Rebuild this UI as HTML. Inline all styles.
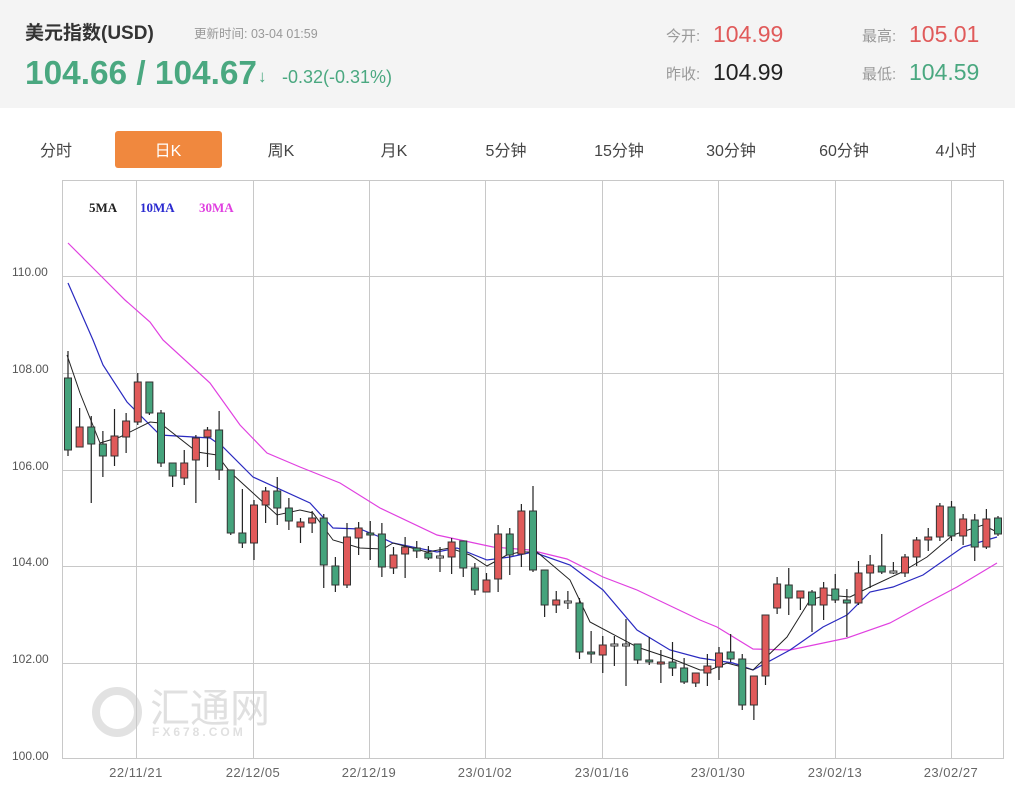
<!DOCTYPE html>
<html><head><meta charset="utf-8"><style>
html,body{margin:0;padding:0;background:#fff;width:1021px;height:794px;overflow:hidden;font-family:"Liberation Sans","Noto Sans CJK SC",sans-serif}
svg{position:absolute;left:0;top:0}
</style></head><body>
<svg width="1021" height="794" viewBox="0 0 1021 794" xmlns="http://www.w3.org/2000/svg" font-family="Liberation Sans, Noto Sans CJK SC, sans-serif">
<rect x="0" y="0" width="1015" height="108" fill="#f4f4f4"/>
<text x="25" y="39" font-size="19" font-weight="bold" fill="#333">美元指数(USD)</text>
<text x="194" y="38" font-size="12.5" fill="#999">更新时间: 03-04 01:59</text>
<text x="25" y="84" font-size="33" font-weight="bold" fill="#4aa880" textLength="232" lengthAdjust="spacingAndGlyphs">104.66 / 104.67</text>
<text x="258" y="82" font-size="17" font-weight="bold" fill="#4aa880">↓</text>
<text x="282" y="83" font-size="18" fill="#4aa880">-0.32(-0.31%)</text>
<text x="666" y="41" font-size="15" fill="#999">今开:</text>
<text x="713" y="42" font-size="23" fill="#e05a5a">104.99</text>
<text x="666" y="79" font-size="15" fill="#999">昨收:</text>
<text x="713" y="80" font-size="23" fill="#222">104.99</text>
<text x="862" y="41" font-size="15" fill="#999">最高:</text>
<text x="909" y="42" font-size="23" fill="#e05a5a">105.01</text>
<text x="862" y="79" font-size="15" fill="#999">最低:</text>
<text x="909" y="80" font-size="23" fill="#4aa880">104.59</text>
<rect x="115" y="131" width="107" height="37" rx="3" fill="#f0883e"/>
<g font-size="16" fill="#444" text-anchor="middle">
<text x="56" y="156">分时</text><text x="168" y="156" fill="#fff">日K</text><text x="281" y="156">周K</text><text x="394" y="156">月K</text><text x="506" y="156">5分钟</text><text x="619" y="156">15分钟</text><text x="731" y="156">30分钟</text><text x="844" y="156">60分钟</text><text x="956" y="156">4小时</text>
</g>
<g fill="none" stroke="#e2e2e2" stroke-width="8"><circle cx="117" cy="712" r="21"/></g>
<text x="150" y="722" font-size="40" fill="#e0e0e0">汇通网</text>
<text x="152" y="736" font-size="12" font-weight="bold" fill="#e0e0e0" letter-spacing="3">FX678.COM</text>
<g id="grid" stroke="#c8c8c8" stroke-width="1" fill="none"></g>
<rect x="62.5" y="180.5" width="941" height="578" fill="none" stroke="#c8c8c8"/>
<g font-size="12" fill="#555">
<text x="12" y="276">110.00</text><text x="12" y="373">108.00</text><text x="12" y="470">106.00</text><text x="12" y="566">104.00</text><text x="12" y="663">102.00</text><text x="12" y="760">100.00</text>
</g>
<g font-size="13" fill="#666" text-anchor="middle" letter-spacing="0.5">
<text x="136" y="777">22/11/21</text><text x="253" y="777">22/12/05</text><text x="369" y="777">22/12/19</text><text x="485" y="777">23/01/02</text><text x="602" y="777">23/01/16</text><text x="718" y="777">23/01/30</text><text x="835" y="777">23/02/13</text><text x="951" y="777">23/02/27</text>
</g>
<g font-size="13" font-family="Liberation Serif, serif" font-weight="bold">
<text x="89" y="212" fill="#222">5MA</text><text x="140" y="212" fill="#2a2ad0">10MA</text><text x="199" y="212" fill="#e040e0">30MA</text>
</g>
<polyline fill="none" stroke="#e040e0" stroke-width="1.2" points="68,243 100,275 125,300 150,322 163,340 210,383 240,425 267,453 300,467 340,483 380,508 437,535 493,547 530,550 567,559 603,577 637,590 700,620 717,627 753,649 790,650 847,638 890,623 923,605 957,587 997,563"/>
<polyline fill="none" stroke="#2a2ac0" stroke-width="1.2" points="68,283 93,340 103,365 127,402 160,435 210,438 223,447 253,477 310,503 333,528 360,529 380,537 393,543 437,552 457,548 487,560 510,557 533,552 570,565 603,590 637,630 670,650 700,658 733,663 753,670 790,650 823,627 847,615 870,592 893,587 923,575 963,547 997,537"/>
<polyline fill="none" stroke="#222" stroke-width="1" points="67,355 80,393 100,443 120,437 150,422 160,423 197,452 217,455 230,472 253,493 277,515 300,510 313,513 333,540 360,548 383,549 393,543 427,552 450,548 470,555 487,566 507,555 520,552 537,552 570,580 590,622 637,647 670,658 700,670 710,670 727,663 753,670 787,637 810,600 827,595 850,597 870,587 900,573 927,557 953,535 983,525 997,532"/>
<g id="candles"></g>
</svg>
<script>
var g=document.getElementById('grid'),s='';
[276,373,470,566,663].forEach(function(y){s+='<line x1="62" x2="1003" y1="'+(y+.5)+'" y2="'+(y+.5)+'"/>'});
[136,253,369,485,602,718,835,951].forEach(function(x){s+='<line y1="180" y2="758" x1="'+(x+.5)+'" x2="'+(x+.5)+'"/>'});
g.innerHTML=s;
var C=[[378,450,351,456,'g'],[427,447,408,447,'r'],[427,444,416,503,'g'],[444,456,431,477,'g'],[436,456,409,466,'r'],[421,437,413,453,'r'],[382,422,373,425,'r'],[382,413,382,415,'g'],[413,463,410,467,'g'],[463,476,463,487,'g'],[463,478,450,485,'r'],[438,460,435,503,'r'],[430,437,427,467,'r'],[430,470,411,480,'g'],[470,533,470,535,'g'],[533,543,489,548,'g'],[505,543,500,560,'r'],[491,505,487,523,'r'],[491,508,477,525,'g'],[508,521,498,530,'g'],[522,527,518,543,'r'],[518,523,511,533,'r'],[518,565,514,588,'g'],[566,585,557,592,'g'],[537,585,523,588,'r'],[528,538,522,555,'r'],[533,535,521,560,'g'],[534,567,523,577,'g'],[555,568,547,574,'r'],[547,554,537,578,'r'],[548,551,541,558,'g'],[553,558,546,560,'g'],[556,558,547,572,'d'],[542,557,538,574,'r'],[541,568,541,577,'g'],[568,590,563,595,'g'],[580,592,573,592,'r'],[534,579,525,592,'r'],[534,555,528,575,'g'],[511,554,504,567,'r'],[511,570,486,572,'g'],[570,605,570,617,'g'],[600,605,591,613,'r'],[601,603,591,609,'d'],[603,652,598,659,'g'],[652,654,631,663,'g'],[645,655,636,673,'r'],[644,646,636,666,'d'],[644,646,619,686,'d'],[644,660,644,664,'g'],[660,662,637,665,'g'],[662,664,650,683,'r'],[662,668,642,676,'g'],[668,682,658,684,'g'],[673,683,673,687,'r'],[666,673,654,686,'r'],[653,667,647,680,'r'],[652,659,634,662,'g'],[659,705,654,710,'g'],[676,705,676,720,'r'],[615,676,615,685,'r'],[584,608,577,614,'r'],[585,598,568,615,'g'],[591,598,591,610,'r'],[592,605,590,632,'g'],[588,605,582,620,'r'],[589,600,574,603,'g'],[600,603,589,637,'g'],[573,603,561,605,'r'],[565,573,555,588,'r'],[566,572,534,574,'g'],[571,573,562,574,'d'],[557,573,554,577,'r'],[540,557,537,566,'r'],[537,540,528,551,'r'],[506,537,503,541,'r'],[507,536,501,541,'g'],[519,536,514,545,'r'],[520,547,514,561,'g'],[519,547,509,549,'r'],[518,534,516,536,'g']];
var h='';
C.forEach(function(c,i){var x=68+i*11.625;
h+='<line x1="'+x+'" x2="'+x+'" y1="'+c[2]+'" y2="'+c[3]+'" stroke="#222" stroke-width="1.2"/>';
var f=c[4]=='r'?'#e05a5a':(c[4]=='g'?'#45a37c':'#eee');
var hh=Math.max(c[1]-c[0],2);
h+='<rect x="'+(x-3.5)+'" y="'+c[0]+'" width="7" height="'+hh+'" fill="'+f+'" stroke="#333" stroke-width="1"/>';});
document.getElementById('candles').innerHTML=h;
</script>
</body></html>
